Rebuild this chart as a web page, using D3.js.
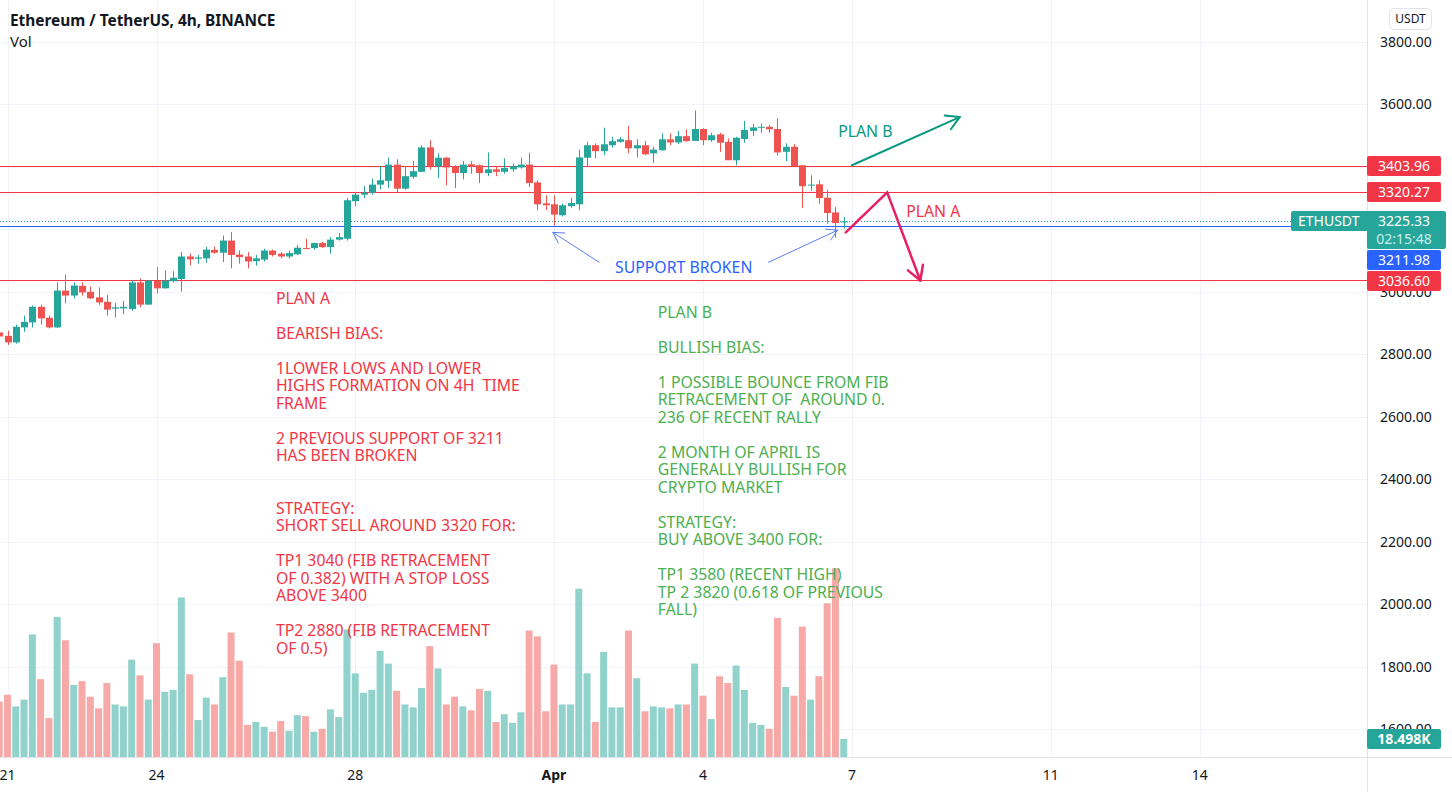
<!DOCTYPE html>
<html><head><meta charset="utf-8">
<script src="https://cdn.jsdelivr.net/npm/d3@7"></script>
<style>
html,body{margin:0;padding:0;background:#fff;}
svg{display:block;}
text{white-space:pre;}
</style></head>
<body>
<svg id="c" width="1452" height="792"></svg>
<script>
// ---------- DATA ----------
// 4h candles, ETH/USDT (Binance), first candle 2024-03-20 20:00 UTC
const firstCandle = Date.UTC(2024, 2, 20, 20);
const opens  = [2870,2859,2838,2886,2902,2952,2917,2886,3004,2988,3019,3000,2982,2968,2946,2947,2945,3030,2959,3036,3011,3034,3041,3113,3106,3107,3134,3125,3164,3119,3113,3098,3103,3132,3122,3113,3120,3140,3140,3156,3143,3167,3170,3290,3311,3317,3343,3355,3407,3330,3368,3384,3462,3402,3429,3402,3380,3408,3405,3380,3392,3384,3392,3398,3407,3350,3283,3280,3245,3274,3280,3429,3469,3450,3469,3480,3485,3459,3469,3443,3453,3488,3478,3498,3483,3521,3485,3504,3480,3421,3489,3515,3525,3528,3521,3448,3464,3405,3340,3344,3301,3254,3222];
const highs  = [2875,2875,2895,2924,2956,2959,2924,3030,3055,3030,3030,3017,3014,2991,2964,2971,3036,3043,3036,3079,3068,3066,3127,3122,3118,3144,3145,3180,3191,3132,3127,3118,3138,3135,3127,3132,3150,3170,3157,3159,3175,3188,3300,3319,3339,3362,3402,3429,3424,3400,3418,3469,3485,3443,3432,3405,3418,3418,3407,3446,3403,3427,3411,3429,3445,3357,3309,3309,3282,3300,3455,3480,3475,3525,3496,3496,3531,3488,3483,3464,3507,3507,3515,3520,3580,3523,3509,3509,3491,3496,3547,3537,3539,3534,3555,3475,3473,3405,3373,3357,3327,3271,3239];
const lows   = [2853,2830,2834,2872,2886,2895,2883,2884,2963,2979,2988,2977,2958,2924,2918,2929,2939,2950,2959,2995,3011,3030,3001,3084,3090,3093,3122,3095,3075,3090,3075,3084,3097,3113,3107,3106,3118,3138,3135,3140,3122,3164,3164,3274,3300,3311,3328,3332,3319,3327,3362,3383,3391,3364,3341,3332,3360,3378,3348,3370,3370,3378,3384,3394,3335,3261,3261,3212,3241,3269,3261,3400,3427,3437,3461,3477,3443,3430,3437,3412,3451,3469,3473,3480,3483,3469,3480,3448,3421,3405,3477,3498,3509,3509,3437,3418,3402,3268,3323,3282,3218,3173,3202];
const closes = [2857,2838,2888,2904,2952,2915,2886,3004,2988,3020,2998,2979,2966,2943,2950,2952,3030,2959,3036,3011,3036,3045,3113,3104,3110,3135,3125,3164,3118,3111,3097,3107,3132,3118,3113,3124,3141,3138,3156,3143,3167,3175,3293,3311,3317,3343,3357,3407,3330,3370,3386,3462,3402,3429,3398,3380,3407,3400,3380,3392,3384,3396,3402,3407,3348,3280,3277,3247,3277,3284,3430,3469,3450,3472,3482,3488,3459,3469,3440,3455,3488,3478,3498,3482,3521,3485,3501,3477,3421,3493,3518,3526,3528,3520,3446,3464,3402,3338,3343,3300,3252,3220,3225.33];
const volumesK = [57,64,52,59,126,80,40,144,120,74,78,62,50,76,54,52,100,84,59,117,67,69,164,85,38,61,54,82,128,99,33,36,31,26,37,27,43,42,26,29,49,41,131,86,66,69,109,96,68,54,51,71,114,91,54,62,52,48,70,68,36,44,35,46,130,124,47,95,54,54,173,86,36,108,51,51,130,81,47,52,51,50,54,54,96,63,39,83,76,94,69,35,33,29,143,72,63,134,59,83,158,194,18.498];

// axis ticks
const priceTicks = [3800,3600,3400,3200,3000,2800,2600,2400,2200,2000,1800,1600];
const timeTickDates = [[2024,2,21],[2024,2,24],[2024,2,28],[2024,3,1],[2024,3,4],[2024,3,7],[2024,3,11],[2024,3,14]];
const timeTickLabels = ["21","24","28","Apr","4","7","11","14"];
const timeTickBold = [false,false,false,true,false,false,false,false];

// horizontal levels
const resistanceLevels = [3403.96, 3320.27, 3036.60];
const supportLevel = 3211.98;
const lastPrice = 3225.33;
const countdown = "02:15:48";
const lastVolumeLabel = "18.498K";

// annotation anchors: [year, month, day, hour, minute], price
const planBArrow = [[[2024,3,7,0,0],3405],[[2024,3,9,4,0],3559]];
const planAPath  = [[[2024,3,6,21,0],3190],[[2024,3,7,17,0],3318],[[2024,3,8,9,0],3036]];
const supportArrows = [
  [[[2024,3,1,22,0],3094],[[2024,2,31,23,30],3190]],
  [[[2024,3,5,7,30],3094],[[2024,3,6,17,0],3197]]
];
const planBLabelAnchor = [[2024,3,6,17,20], 3495];
const planALabelAnchor = [[2024,3,8,2,10], 3239];
const supportLabelAnchor = [[2024,3,2,5,30], 3060];
const planALines = ["PLAN A","","BEARISH BIAS:","","1LOWER LOWS AND LOWER","HIGHS FORMATION ON 4H  TIME","FRAME","","2 PREVIOUS SUPPORT OF 3211","HAS BEEN BROKEN","","","STRATEGY:","SHORT SELL AROUND 3320 FOR:","","TP1 3040 (FIB RETRACEMENT","OF 0.382) WITH A STOP LOSS","ABOVE 3400","","TP2 2880 (FIB RETRACEMENT","OF 0.5)"];
const planBLines = ["PLAN B","","BULLISH BIAS:","","1 POSSIBLE BOUNCE FROM FIB","RETRACEMENT OF  AROUND 0.","236 OF RECENT RALLY","","2 MONTH OF APRIL IS","GENERALLY BULLISH FOR","CRYPTO MARKET","","STRATEGY:","BUY ABOVE 3400 FOR:","","TP1 3580 (RECENT HIGH)","TP 2 3820 (0.618 OF PREVIOUS","FALL)"];
const planATextAnchor = [[2024,2,26,9,40], 2962];
const planBTextAnchor = [[2024,3,3,2,10], 2917];

// ---------- LAYOUT ----------
const W = 1452, H = 792;
const plotRight = 1367, plotBottom = 757;
const FONT = "'Noto Sans', 'Open Sans', sans-serif";
const C_UP = "#26a69a", C_DN = "#ef5350";
const C_UPV = "#92d2cc", C_DNV = "#f7a9a7";
const C_RED = "#f23645", C_BLUE = "#2962ff";
const ANN_FS = 15.8;

const H4 = 4*3600*1000;
const times = opens.map((_, i) => new Date(firstCandle + i*H4));
const toDate = a => new Date(Date.UTC(a[0], a[1], a[2], a[3]||0, a[4]||0));

const x = d3.scaleUtc()
  .domain([new Date(Date.UTC(2024,2,21)), new Date(Date.UTC(2024,3,7))])
  .range([7.5, 852]);
const y = d3.scaleLinear().domain([1600, 3800]).range([729.3, 41.8]);
const yv = d3.scaleLinear().domain([0, 200]).range([plotBottom, plotBottom - 194.6]);

const svg = d3.select("#c");
svg.append("rect").attr("width", W).attr("height", H).attr("fill", "#fff");

// grid
const grid = svg.append("g");
grid.selectAll("line.h").data(priceTicks).join("line")
  .attr("x1", 0).attr("x2", plotRight).attr("y1", d => Math.round(y(d))+0.5).attr("y2", d => Math.round(y(d))+0.5)
  .attr("stroke", "#f0f3fa").attr("stroke-width", 1);
grid.selectAll("line.v").data(timeTickDates).join("line")
  .attr("y1", 0).attr("y2", plotBottom).attr("x1", d => Math.round(x(toDate(d)))+0.5).attr("x2", d => Math.round(x(toDate(d)))+0.5)
  .attr("stroke", "#f0f3fa").attr("stroke-width", 1);

const plot = svg.append("g");
const barW = 7;

// volume
plot.selectAll("rect.vol").data(volumesK).join("rect")
  .attr("x", (d, i) => x(times[i]) - barW/2)
  .attr("y", d => yv(d))
  .attr("width", barW)
  .attr("height", d => yv(0) - yv(d))
  .attr("fill", (d, i) => closes[i] >= opens[i] ? C_UPV : C_DNV);

// level lines
plot.selectAll("line.res").data(resistanceLevels).join("line")
  .attr("x1", 0).attr("x2", plotRight)
  .attr("y1", d => Math.round(y(d))+0.5).attr("y2", d => Math.round(y(d))+0.5)
  .attr("stroke", C_RED).attr("stroke-width", 1);
plot.append("line").attr("x1", 0).attr("x2", plotRight)
  .attr("y1", Math.round(y(lastPrice))+0.5).attr("y2", Math.round(y(lastPrice))+0.5)
  .attr("stroke", C_UP).attr("stroke-width", 1).attr("stroke-dasharray", "1,2");
plot.append("line").attr("x1", 0).attr("x2", plotRight)
  .attr("y1", Math.round(y(supportLevel))+0.5).attr("y2", Math.round(y(supportLevel))+0.5)
  .attr("stroke", C_BLUE).attr("stroke-width", 1);

// candles
const cg = plot.selectAll("g.candle").data(opens).join("g");
cg.append("line")
  .attr("x1", (d, i) => Math.round(x(times[i]))+0.5).attr("x2", (d, i) => Math.round(x(times[i]))+0.5)
  .attr("y1", (d, i) => y(highs[i])).attr("y2", (d, i) => y(lows[i]))
  .attr("stroke", (d, i) => closes[i] >= opens[i] ? C_UP : C_DN).attr("stroke-width", 1);
cg.append("rect")
  .attr("x", (d, i) => Math.round(x(times[i])) - 3)
  .attr("width", 7)
  .attr("y", (d, i) => y(Math.max(opens[i], closes[i])))
  .attr("height", (d, i) => Math.max(1, Math.abs(y(opens[i]) - y(closes[i]))))
  .attr("fill", (d, i) => closes[i] >= opens[i] ? C_UP : C_DN);

// annotations
const pt = p => [x(toDate(p[0])), y(p[1])];
function arrowHead(g, from, to, len, color, width) {
  const a = Math.atan2(to[1]-from[1], to[0]-from[0]);
  const s = Math.PI/6;
  [a + Math.PI - s, a + Math.PI + s].forEach(b => {
    g.append("line").attr("x1", to[0]).attr("y1", to[1])
      .attr("x2", to[0] + len*Math.cos(b)).attr("y2", to[1] + len*Math.sin(b))
      .attr("stroke", color).attr("stroke-width", width).attr("stroke-linecap", "round");
  });
}
const ann = svg.append("g");
function label(anchor, txt, color) {
  const p = pt(anchor);
  ann.append("text").attr("x", p[0]).attr("y", p[1]).attr("fill", color)
    .attr("font-family", FONT).attr("font-size", ANN_FS).text(txt);
}
// plan B arrow
{
  const p0 = pt(planBArrow[0]), p1 = pt(planBArrow[1]);
  ann.append("line").attr("x1", p0[0]).attr("y1", p0[1]).attr("x2", p1[0]).attr("y2", p1[1])
    .attr("stroke", "#089981").attr("stroke-width", 2).attr("stroke-linecap", "round");
  arrowHead(ann, p0, p1, 15, "#089981", 2);
  label(planBLabelAnchor, "PLAN B", "#089981");
}
// plan A path
{
  const pts = planAPath.map(pt);
  ann.append("path").attr("d", d3.line()(pts)).attr("fill", "none")
    .attr("stroke", "#e91e63").attr("stroke-width", 2.5).attr("stroke-linejoin", "miter").attr("stroke-linecap", "round");
  arrowHead(ann, pts[1], pts[2], 16, "#e91e63", 2.5);
  label(planALabelAnchor, "PLAN A", C_RED);
}
// support broken
supportArrows.forEach(a => {
  const p0 = pt(a[0]), p1 = pt(a[1]);
  ann.append("line").attr("x1", p0[0]).attr("y1", p0[1]).attr("x2", p1[0]).attr("y2", p1[1])
    .attr("stroke", "#5b7ff0").attr("stroke-width", 1);
  arrowHead(ann, p0, p1, 12, "#5b7ff0", 1);
});
label(supportLabelAnchor, "SUPPORT BROKEN", "#2962ff");

// text blocks
function block(lines, anchor, color) {
  const p = pt(anchor);
  const t = ann.append("text").attr("font-family", FONT).attr("font-size", ANN_FS).attr("fill", color);
  lines.forEach((l, k) => {
    t.append("tspan").attr("x", p[0]).attr("y", p[1] + k*17.5).text(l === "" ? " " : l);
  });
}
block(planALines, planATextAnchor, C_RED);
block(planBLines, planBTextAnchor, "#4caf50");

// axes frame
svg.append("rect").attr("x", plotRight).attr("y", 0).attr("width", W-plotRight).attr("height", H).attr("fill", "#fff");
svg.append("rect").attr("x", 0).attr("y", plotBottom).attr("width", W).attr("height", H-plotBottom).attr("fill", "#fff");
svg.append("line").attr("x1", plotRight+0.5).attr("x2", plotRight+0.5).attr("y1", 0).attr("y2", H).attr("stroke", "#e0e3eb");
svg.append("line").attr("x1", 0).attr("x2", W).attr("y1", plotBottom+0.5).attr("y2", plotBottom+0.5).attr("stroke", "#e0e3eb");

// price label boxes, stacked top-to-bottom so they never overlap
const boxes = [
  {val: resistanceLevels[0], color: C_RED, lines: [d3.format(".2f")(resistanceLevels[0])]},
  {val: resistanceLevels[1], color: C_RED, lines: [d3.format(".2f")(resistanceLevels[1])]},
  {val: lastPrice, color: C_UP, lines: [d3.format(".2f")(lastPrice), countdown], tag: "ETHUSDT"},
  {val: supportLevel, color: C_BLUE, lines: [d3.format(".2f")(supportLevel)]},
  {val: resistanceLevels[2], color: C_RED, lines: [d3.format(".2f")(resistanceLevels[2])]}
];
let prevBottom = -Infinity;
boxes.forEach(b => {
  b.h = b.lines.length === 1 ? 20 : 38;
  let top = Math.round(y(b.val)) - 10;
  if (top < prevBottom + 1) top = prevBottom + 1;
  b.top = top;
  prevBottom = top + b.h;
});
const volBox = {top: Math.round(yv(volumesK[volumesK.length-1])) - 10, h: 20};
const allBoxes = boxes.concat([volBox]);

// price axis labels (labels completely hidden behind a price box are not drawn)
const visibleTicks = priceTicks.filter(v => {
  const c = y(v);
  return !allBoxes.some(b => c - 6 >= b.top && c + 6 <= b.top + b.h);
});
svg.append("g").selectAll("text").data(visibleTicks).join("text")
  .attr("x", 1380).attr("y", d => y(d)).attr("dy", "0.35em")
  .attr("font-family", FONT).attr("font-size", 14).attr("fill", "#131722")
  .text(d => d3.format(".2f")(d));

// time axis labels
svg.append("g").selectAll("text").data(timeTickDates).join("text")
  .attr("x", d => x(toDate(d))).attr("y", 775).attr("dy", "0.35em").attr("text-anchor", "middle")
  .attr("font-family", FONT).attr("font-size", 14).attr("fill", "#131722")
  .attr("font-weight", (d, i) => timeTickBold[i] ? "bold" : "normal")
  .text((d, i) => timeTickLabels[i]);

boxes.forEach(b => {
  if (b.tag) {
    svg.append("rect").attr("x", 1291).attr("y", b.top).attr("width", 80).attr("height", 20).attr("rx", 2).attr("fill", b.color);
    svg.append("text").attr("x", 1298).attr("y", b.top + 10).attr("dy", "0.35em")
      .attr("font-family", FONT).attr("font-size", 14).attr("fill", "#fff").text(b.tag);
  }
  svg.append("rect").attr("x", 1367).attr("y", b.top).attr("width", b.lines.length === 1 ? 74 : 79).attr("height", b.h).attr("rx", 2).attr("fill", b.color);
  b.lines.forEach((l, k) => {
    svg.append("text").attr("x", 1404).attr("y", b.top + 10 + k*18).attr("dy", "0.35em").attr("text-anchor", "middle")
      .attr("font-family", FONT).attr("font-size", 14).attr("fill", k === 0 ? "#fff" : "#c8efe9").text(l);
  });
});
// volume label
svg.append("rect").attr("x", 1367).attr("y", volBox.top).attr("width", 74).attr("height", volBox.h).attr("rx", 2).attr("fill", C_UP);
svg.append("text").attr("x", 1404).attr("y", volBox.top + 10).attr("dy", "0.35em").attr("text-anchor", "middle")
  .attr("font-family", FONT).attr("font-size", 14).attr("font-weight", "bold").attr("fill", "#fff").text(lastVolumeLabel);

// currency box
svg.append("rect").attr("x", 1389.5).attr("y", 8.5).attr("width", 42).attr("height", 21).attr("rx", 4)
  .attr("fill", "#fff").attr("stroke", "#e0e3eb");
svg.append("text").attr("x", 1410.5).attr("y", 19).attr("dy", "0.35em").attr("text-anchor", "middle")
  .attr("font-family", FONT).attr("font-size", 12).attr("fill", "#131722").text("USDT");

// title
svg.append("text").attr("x", 10).attr("y", 26).attr("font-family", FONT).attr("font-size", 15.4).attr("font-weight", "bold")
  .attr("fill", "#131722").text("Ethereum / TetherUS, 4h, BINANCE");
svg.append("text").attr("x", 10).attr("y", 47).attr("font-family", FONT).attr("font-size", 15)
  .attr("fill", "#131722").text("Vol");
</script>
</body></html>
